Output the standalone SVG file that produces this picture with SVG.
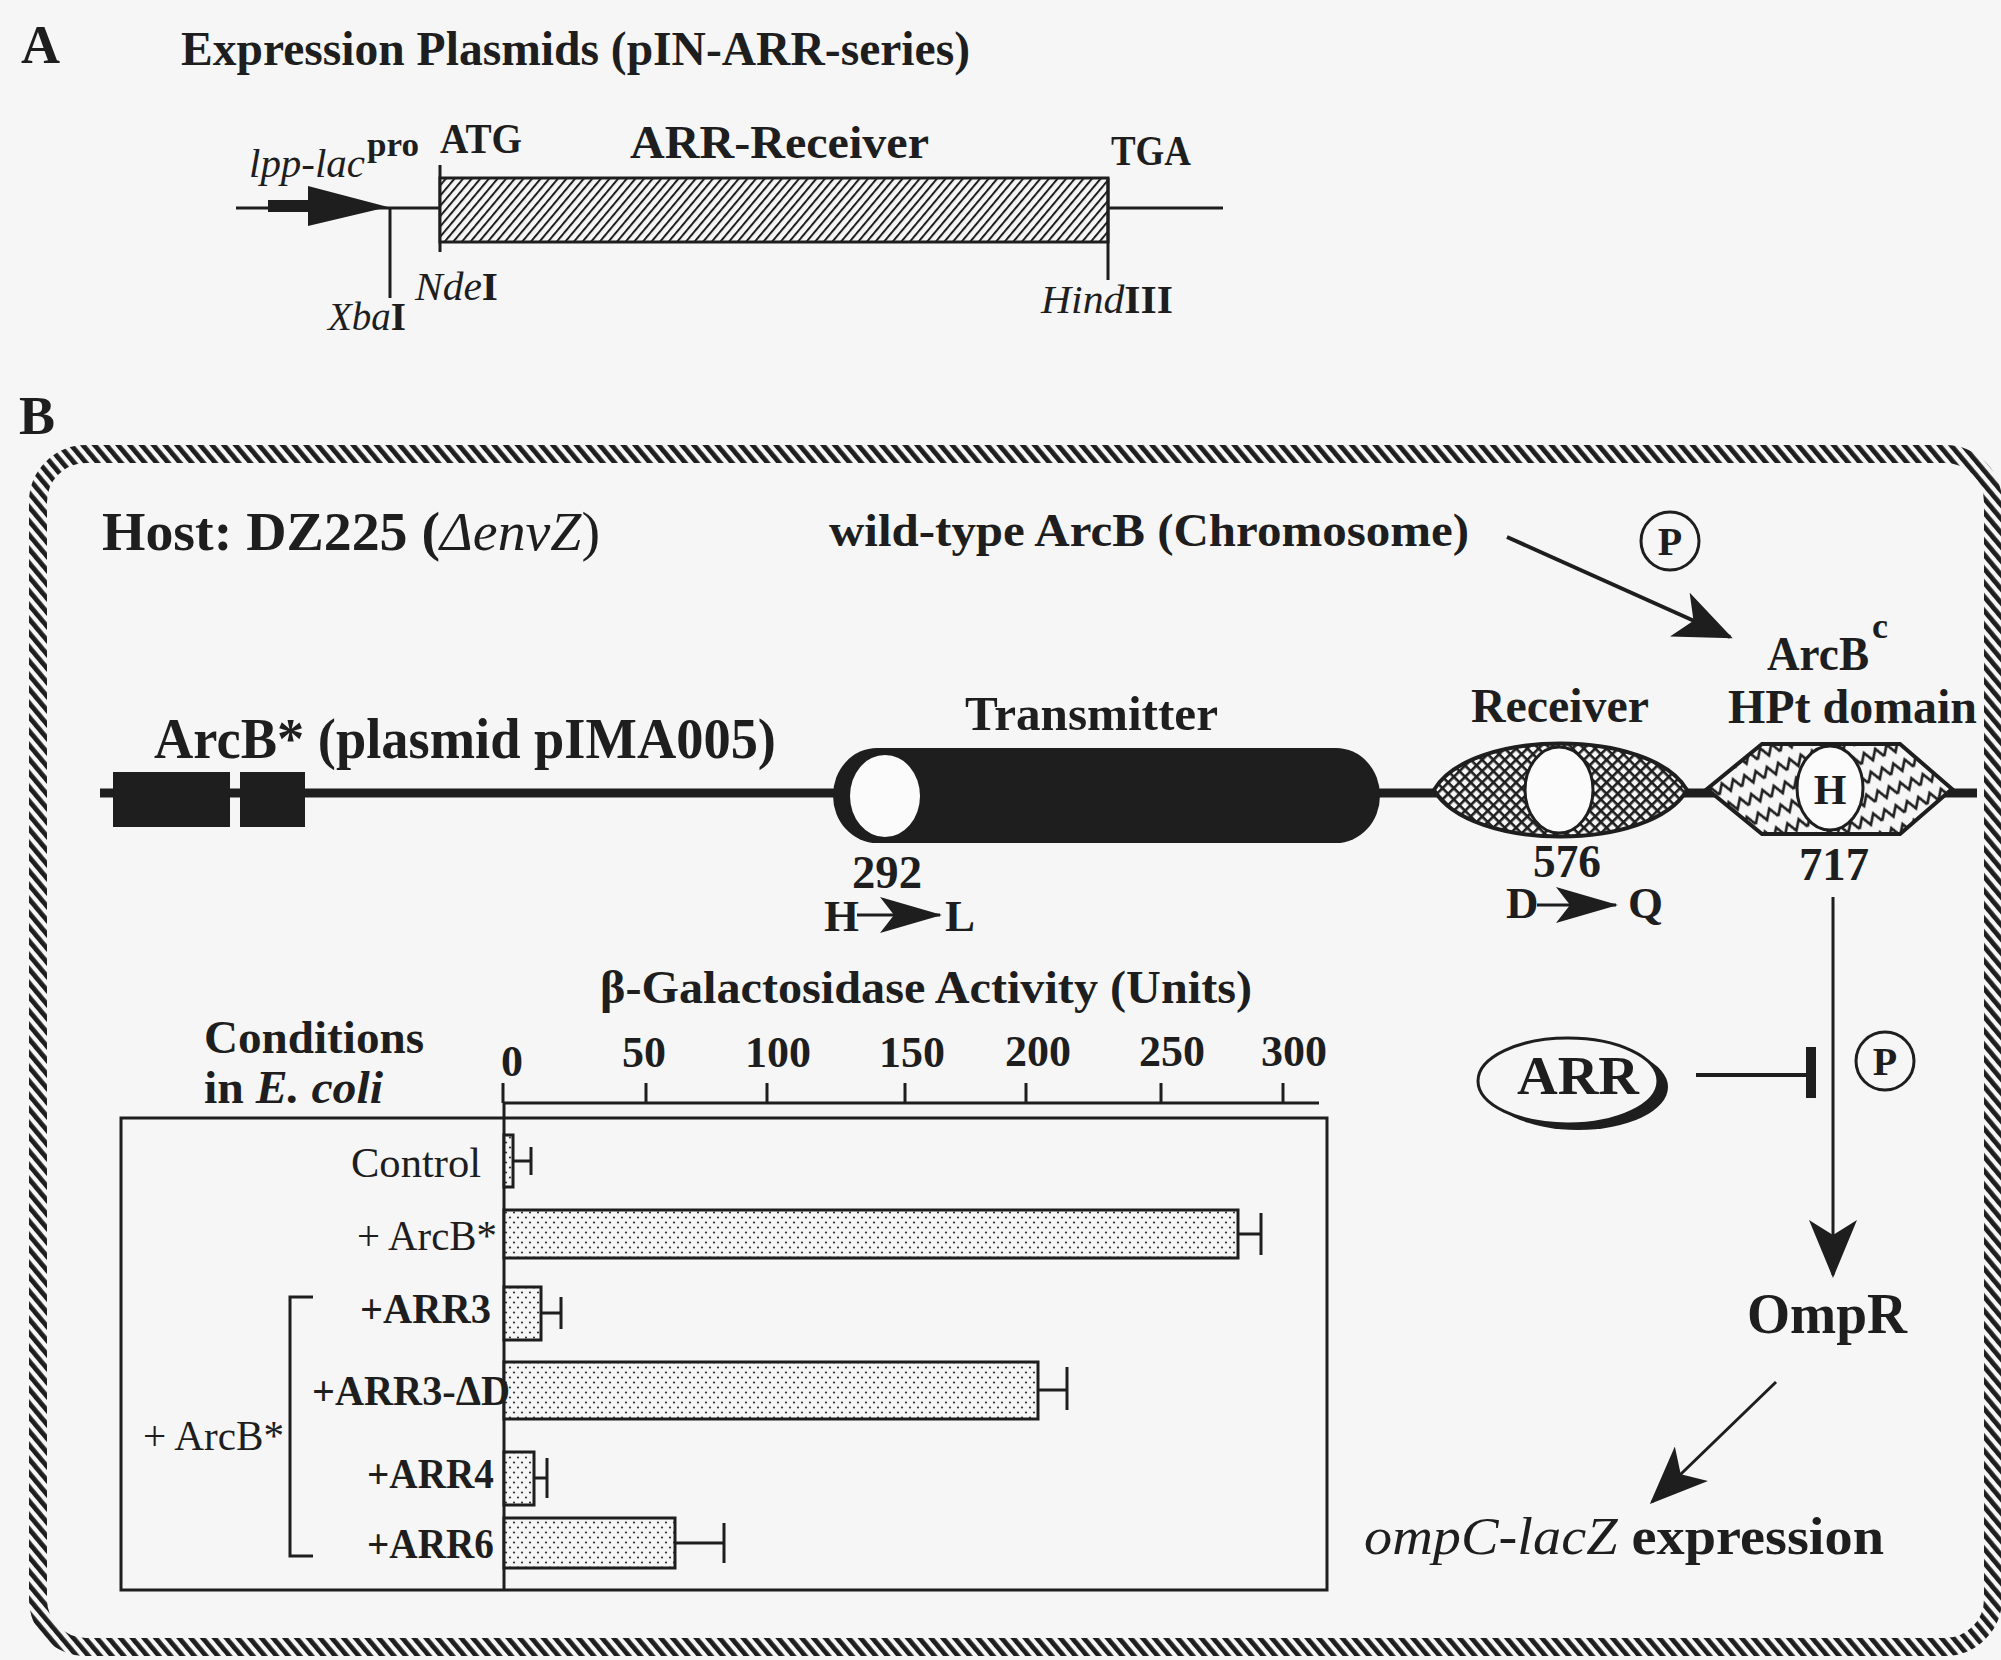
<svg xmlns="http://www.w3.org/2000/svg" width="2001" height="1660" viewBox="0 0 2001 1660">
<style>
.t{font-family:"Liberation Serif","Times New Roman",serif;font-weight:bold;fill:#1e1e1e}
.n{font-weight:normal}
.i{font-style:italic}
.ln{stroke:#1e1e1e;fill:none;stroke-width:3}
.bar{fill:url(#dots);stroke:#1e1e1e;stroke-width:3}
.mid{text-anchor:middle}
.end{text-anchor:end}
</style>
<defs>
<pattern id="rope" patternUnits="userSpaceOnUse" width="9" height="9" patternTransform="rotate(-40)">
<rect x="0" y="0" width="9" height="9" fill="#f6f6f6"/>
<rect x="0" y="0" width="4.8" height="9" fill="#1e1e1e"/>
</pattern>
<pattern id="hatch" patternUnits="userSpaceOnUse" width="6.6" height="8" patternTransform="rotate(40)">
<rect x="0" y="0" width="6.6" height="8" fill="#f6f6f6"/>
<rect x="0" y="0" width="2" height="8" fill="#1e1e1e"/>
</pattern>
<pattern id="xhatch" patternUnits="userSpaceOnUse" width="8" height="8" patternTransform="rotate(45)">
<rect x="0" y="0" width="8" height="8" fill="#f6f6f6"/>
<rect x="0" y="0" width="2.6" height="8" fill="#1e1e1e"/>
<rect x="0" y="0" width="8" height="2.6" fill="#1e1e1e"/>
</pattern>
<pattern id="zig" patternUnits="userSpaceOnUse" width="24" height="20" patternTransform="rotate(-20)">
<rect x="0" y="0" width="24" height="20" fill="#f6f6f6"/>
<path d="M0,15 L6,5 L12,15 L18,5 L24,15" stroke="#1e1e1e" stroke-width="2.6" fill="none"/>
</pattern>
<pattern id="dots" patternUnits="userSpaceOnUse" width="8" height="10">
<rect x="0" y="0" width="8" height="10" fill="#f6f6f6"/>
<circle cx="2" cy="2.5" r="1.1" fill="#333"/>
<circle cx="6" cy="7.5" r="1.1" fill="#333"/>
</pattern>
<marker id="ah" viewBox="0 0 58 48" refX="55" refY="24" markerWidth="58" markerHeight="48" markerUnits="userSpaceOnUse" orient="auto">
<path d="M0,0 L58,24 L0,48 L15,24 Z" fill="#1e1e1e"/>
</marker>
<marker id="mut" viewBox="0 0 62 36" refX="60" refY="18" markerWidth="62" markerHeight="36" markerUnits="userSpaceOnUse" orient="auto">
<path d="M0,0 L62,18 L0,36 L14,18 Z" fill="#1e1e1e"/>
</marker>
</defs>
<rect x="0" y="0" width="2001" height="1660" fill="#f6f6f6"/>

<!-- Panel A -->
<g id="panelA">
<text class="t" x="21" y="63" font-size="54">A</text>
<text class="t" x="181" y="65" font-size="48" textLength="789" lengthAdjust="spacingAndGlyphs">Expression Plasmids (pIN-ARR-series)</text>
<line class="ln" x1="236" y1="208" x2="440" y2="208"/>
<line class="ln" x1="1108" y1="208" x2="1223" y2="208"/>
<g id="promoter">
<line x1="268" y1="206" x2="318" y2="206" stroke="#1e1e1e" stroke-width="12"/>
<polygon points="308,186 388,207 308,226" fill="#1e1e1e"/>
<text class="t n i" x="249" y="177" font-size="41" textLength="116" lengthAdjust="spacingAndGlyphs">lpp-lac</text>
<text class="t" x="367" y="156" font-size="34" textLength="52" lengthAdjust="spacingAndGlyphs">pro</text>
</g>
<line class="ln" x1="390" y1="208" x2="390" y2="298"/>
<text class="t" x="328" y="330" font-size="39" textLength="78" lengthAdjust="spacingAndGlyphs"><tspan class="n i">Xba</tspan>I</text>
<line class="ln" x1="440" y1="165" x2="440" y2="252"/>
<text class="t" x="415" y="300" font-size="39" textLength="83" lengthAdjust="spacingAndGlyphs"><tspan class="n i">Nde</tspan>I</text>
<g id="arr-receiver-gene">
<rect x="440" y="178" width="668" height="64" fill="url(#hatch)" stroke="#1e1e1e" stroke-width="3"/>
<text class="t" x="630" y="158" font-size="46" textLength="299" lengthAdjust="spacingAndGlyphs">ARR-Receiver</text>
</g>
<text class="t" x="440" y="153" font-size="42" textLength="82" lengthAdjust="spacingAndGlyphs">ATG</text>
<line class="ln" x1="1108" y1="178" x2="1108" y2="280"/>
<text class="t" x="1111" y="165" font-size="42" textLength="80" lengthAdjust="spacingAndGlyphs">TGA</text>
<text class="t" x="1041" y="313" font-size="39" textLength="132" lengthAdjust="spacingAndGlyphs"><tspan class="n i">Hind</tspan>III</text>
</g>

<!-- Panel B -->
<text class="t" x="19" y="434" font-size="54">B</text>
<g id="border">
<rect x="38" y="454" width="1955" height="1193" rx="48" ry="48" fill="none" stroke="url(#rope)" stroke-width="18"/>
</g>
<text class="t" x="102" y="550" font-size="54" textLength="498" lengthAdjust="spacingAndGlyphs">Host: DZ225 (<tspan class="n i">ΔenvZ</tspan><tspan class="n">)</tspan></text>

<g id="node-wildtype">
<text class="t" x="829" y="546" font-size="47" textLength="640" lengthAdjust="spacingAndGlyphs">wild-type ArcB  (Chromosome)</text>
</g>
<g id="node-p1">
<circle cx="1670" cy="541" r="29" fill="none" stroke="#1e1e1e" stroke-width="3"/>
<text class="t mid" x="1670" y="555" font-size="40">P</text>
</g>

<g id="node-arcb-star">
<line x1="100" y1="793" x2="1977" y2="793" stroke="#1e1e1e" stroke-width="9"/>
<rect x="113" y="772" width="117" height="55" fill="#1e1e1e"/>
<rect x="240" y="772" width="65" height="55" fill="#1e1e1e"/>
<text class="t" x="154" y="758" font-size="56" textLength="622" lengthAdjust="spacingAndGlyphs">ArcB* (plasmid pIMA005)</text>
</g>

<g id="node-transmitter">
<rect x="833" y="748" width="547" height="95" rx="44" ry="47.5" fill="#1e1e1e"/>
<ellipse cx="885" cy="796" rx="35" ry="41" fill="#fbfbfb"/>
<text class="t" x="965" y="730" font-size="48" textLength="253" lengthAdjust="spacingAndGlyphs">Transmitter</text>
<text class="t" x="852" y="888" font-size="46" textLength="70" lengthAdjust="spacingAndGlyphs">292</text>
<text class="t" x="824" y="931" font-size="45">H</text>
<text class="t" x="945" y="931" font-size="45">L</text>
</g>

<g id="node-receiver">
<path d="M1434,790 C1470,728 1651,728 1687,790 C1651,852 1470,852 1434,790 Z" fill="url(#xhatch)" stroke="#1e1e1e" stroke-width="4"/>
<ellipse cx="1559" cy="790" rx="34" ry="43" fill="#fbfbfb" stroke="#1e1e1e" stroke-width="3"/>
<text class="t" x="1471" y="722" font-size="48" textLength="178" lengthAdjust="spacingAndGlyphs">Receiver</text>
<text class="t" x="1533" y="877" font-size="46" textLength="68" lengthAdjust="spacingAndGlyphs">576</text>
<text class="t" x="1506" y="918" font-size="45">D</text>
<text class="t" x="1628" y="918" font-size="45">Q</text>
</g>

<g id="node-hpt">
<polygon points="1707,789 1762,744 1900,744 1952,789 1900,834 1762,834" fill="url(#zig)" stroke="#1e1e1e" stroke-width="4"/>
<ellipse cx="1830" cy="788" rx="33" ry="42" fill="#fbfbfb" stroke="#1e1e1e" stroke-width="3"/>
<text class="t mid" x="1830" y="804" font-size="42">H</text>
<text class="t" x="1767" y="670" font-size="48" textLength="102" lengthAdjust="spacingAndGlyphs">ArcB</text>
<text class="t" x="1872" y="638" font-size="36">c</text>
<text class="t" x="1728" y="723" font-size="48" textLength="249" lengthAdjust="spacingAndGlyphs">HPt domain</text>
<text class="t" x="1799" y="880" font-size="46" textLength="70" lengthAdjust="spacingAndGlyphs">717</text>
</g>

<g id="node-arr">
<ellipse cx="1578" cy="1087" rx="90" ry="43" fill="#1e1e1e"/>
<ellipse cx="1568" cy="1081" rx="90" ry="43" fill="#f6f6f6" stroke="#1e1e1e" stroke-width="3"/>
<text class="t" x="1517" y="1094" font-size="54" textLength="122" lengthAdjust="spacingAndGlyphs">ARR</text>
</g>
<g id="node-p2">
<circle cx="1885" cy="1061" r="29" fill="none" stroke="#1e1e1e" stroke-width="3"/>
<text class="t mid" x="1885" y="1075" font-size="40">P</text>
</g>
<g id="node-ompr">
<text class="t" x="1747" y="1333" font-size="56" textLength="160" lengthAdjust="spacingAndGlyphs">OmpR</text>
</g>
<g id="node-ompc">
<text class="t" x="1364" y="1554" font-size="53" textLength="520" lengthAdjust="spacingAndGlyphs"><tspan class="n i">ompC-lacZ</tspan> expression</text>
</g>

<g id="connectors">
<line x1="1507" y1="537" x2="1730" y2="637" stroke="#1e1e1e" stroke-width="4" marker-end="url(#ah)"/>
<line x1="857" y1="915" x2="940" y2="915" stroke="#1e1e1e" stroke-width="3" marker-end="url(#mut)"/>
<line x1="1537" y1="905" x2="1616" y2="905" stroke="#1e1e1e" stroke-width="3" marker-end="url(#mut)"/>
<line x1="1833" y1="897" x2="1833" y2="1275" stroke="#1e1e1e" stroke-width="3" marker-end="url(#ah)"/>
<line x1="1696" y1="1075" x2="1808" y2="1075" stroke="#1e1e1e" stroke-width="4"/>
<line x1="1811" y1="1047" x2="1811" y2="1098" stroke="#1e1e1e" stroke-width="10"/>
<line x1="1776" y1="1382" x2="1652" y2="1502" stroke="#1e1e1e" stroke-width="3" marker-end="url(#ah)"/>
</g>

<g id="chart">
<text class="t" x="600" y="1003" font-size="47" textLength="652" lengthAdjust="spacingAndGlyphs">β-Galactosidase Activity (Units)</text>
<text class="t" x="204" y="1053" font-size="47" textLength="220" lengthAdjust="spacingAndGlyphs">Conditions</text>
<text class="t" x="204" y="1103" font-size="47" textLength="179" lengthAdjust="spacingAndGlyphs">in <tspan class="i">E. coli</tspan></text>
<g font-size="44">
<text class="t mid" x="512" y="1076">0</text>
<text class="t mid" x="644" y="1067">50</text>
<text class="t mid" x="778" y="1067">100</text>
<text class="t mid" x="912" y="1067">150</text>
<text class="t mid" x="1038" y="1066">200</text>
<text class="t mid" x="1172" y="1066">250</text>
<text class="t mid" x="1294" y="1066">300</text>
</g>
<path class="ln" d="M503,1103 H1319 M503,1083 V1103 M646,1083 V1103 M767,1083 V1103 M905,1083 V1103 M1026,1083 V1103 M1161,1083 V1103 M1283,1083 V1103"/>
<rect class="ln" x="121" y="1118" width="1206" height="472"/>
<line class="ln" x1="504" y1="1103" x2="504" y2="1590"/>
<rect class="bar" x="504" y="1135" width="9" height="52"/>
<path class="ln" d="M513,1161 H531 M531,1147 V1175"/>
<rect class="bar" x="504" y="1210" width="734" height="48"/>
<path class="ln" d="M1238,1234 H1261 M1261,1213 V1255"/>
<rect class="bar" x="504" y="1287" width="37" height="53"/>
<path class="ln" d="M541,1313 H561 M561,1297 V1329"/>
<rect class="bar" x="504" y="1362" width="534" height="57"/>
<path class="ln" d="M1038,1390 H1067 M1067,1367 V1410"/>
<rect class="bar" x="504" y="1452" width="30" height="53"/>
<path class="ln" d="M534,1478 H547 M547,1458 V1498"/>
<rect class="bar" x="504" y="1518" width="171" height="50"/>
<path class="ln" d="M675,1543 H724 M724,1523 V1563"/>
<g font-size="43">
<text class="t n end" x="481" y="1177" textLength="130" lengthAdjust="spacingAndGlyphs">Control</text>
<text class="t n end" x="497" y="1250" textLength="140" lengthAdjust="spacingAndGlyphs">+ ArcB*</text>
<text class="t end" x="491" y="1323" textLength="131" lengthAdjust="spacingAndGlyphs">+ARR3</text>
<text class="t end" x="510" y="1405" textLength="198" lengthAdjust="spacingAndGlyphs">+ARR3-ΔD</text>
<text class="t end" x="494" y="1488" textLength="127" lengthAdjust="spacingAndGlyphs">+ARR4</text>
<text class="t end" x="494" y="1558" textLength="127" lengthAdjust="spacingAndGlyphs">+ARR6</text>
<text class="t n" x="143" y="1450" textLength="141" lengthAdjust="spacingAndGlyphs">+ ArcB*</text>
</g>
<path class="ln" d="M313,1297 H290 V1556 H313"/>
</g>
</svg>
